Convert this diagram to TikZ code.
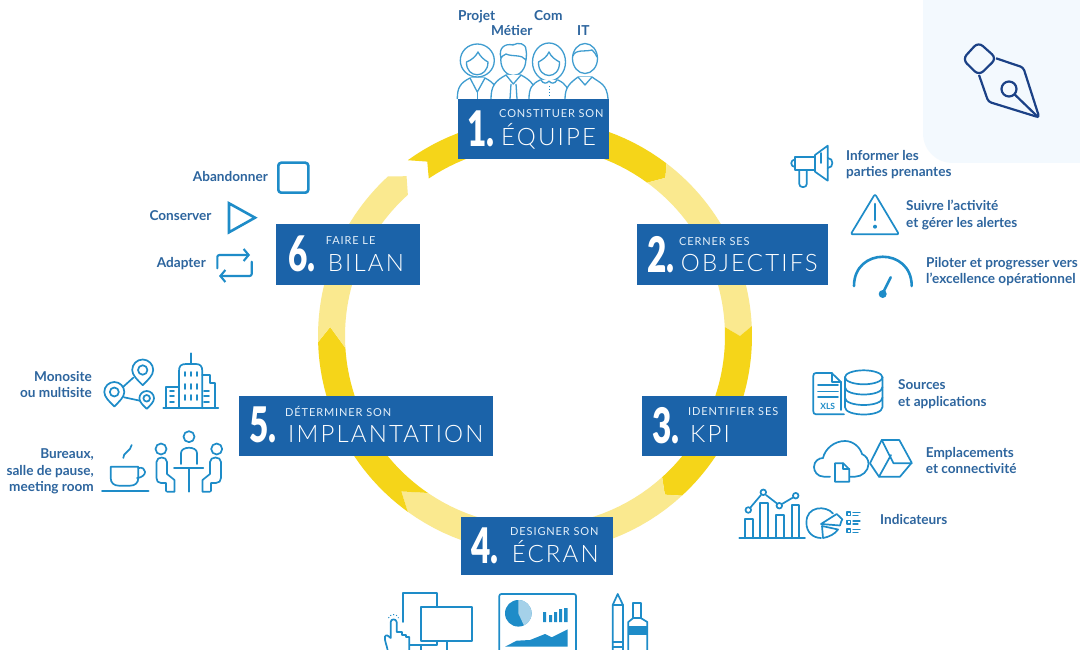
\documentclass[tikz,border=0pt]{standalone}
\usepackage{fontspec}
\setmainfont{Lato}
\newfontfamily\stepfont[LetterSpace=8]{Lato}
\newfontfamily\stepthin[LetterSpace=9]{Lato Light}
\newfontfamily\stepheavy{Lato Black}
\usetikzlibrary{arrows.meta}
\definecolor{boxblue}{HTML}{1B63A9}
\definecolor{boxtext}{HTML}{E4F0FA}
\definecolor{labelblue}{HTML}{2D659E}
\definecolor{iconblue}{HTML}{1E8CC8}
\definecolor{deepyellow}{HTML}{F5D519}
\definecolor{paleyellow}{HTML}{FAE98F}
\definecolor{panelblue}{HTML}{F3F9FE}
\definecolor{navyblue}{HTML}{1B4186}
% one piece of the ring: colour, outer from/to, head tip, inner to/from, tail tip
\newcommand{\ringseg}[7]{%
  \fill[#1] plot[domain=#2:#3,samples=30] ({535+217*cos(\x)},{336+217*sin(\x)})
    -- ({535+205*cos(#4)},{336+205*sin(#4)})
    -- plot[domain=#5:#6,samples=30] ({535+190*cos(\x)},{336+190*sin(\x)})
    -- ({535+205*cos(#7)},{336+205*sin(#7)}) -- cycle;}
\begin{document}
\begin{tikzpicture}[
    x=1pt, y=-1pt,
    stepbox/.style={draw=none, fill=boxblue, inner sep=0pt},
    stepnum/.style={anchor=base west, inner sep=0pt, text=white, font=\fontsize{49}{49}\stepheavy},
    steptop/.style={anchor=base west, inner sep=0pt, text=boxtext, font=\fontsize{11}{12}\stepfont},
    stepbig/.style={anchor=base west, inner sep=0pt, text=white, font=\fontsize{24}{24}\stepthin},
    lab/.style={anchor=west, inner sep=0pt, align=left, text=labelblue, font=\fontsize{13.6}{16.4}\bfseries},
    labr/.style={anchor=east, inner sep=0pt, align=right, text=labelblue, font=\fontsize{13.6}{16.8}\bfseries},
    team/.style={anchor=base west, inner sep=0pt, text=labelblue, font=\fontsize{13.7}{15}\bfseries},
    icon/.style={draw=iconblue, line width=1.7pt, line join=round, line cap=round},
    thickicon/.style={draw=iconblue, line width=2.6pt, line join=round, line cap=round},
    person/.style={draw=iconblue!85, line width=1.3pt, fill=white, line join=round},
    pinicon/.pic={
      \draw[icon] (0,1.45) .. controls (-.5,.95) and (-1,.5) .. (-1,0)
        .. controls (-1,-.55) and (-.55,-1) .. (0,-1)
        .. controls (.55,-1) and (1,-.55) .. (1,0)
        .. controls (1,.5) and (.5,.95) .. (0,1.45) -- cycle;
      \draw[icon] (0,0) circle (.45);
    }
]
    \clip (0,0) rectangle (1080,650);
    \fill[white] (0,0) rectangle (1080,650);

    % panel with pen
    \fill[panelblue] (1090,-10) -- (923,-10) -- (923,133) .. controls (923,150) and (936,163) .. (953,163) -- (1090,163) -- cycle;
    \draw[navyblue, line width=2.2pt, line join=round, rounded corners=6pt]
        (978.3,42) -- (996.5,58.3) -- (979,75.5) -- (962.5,59.3) -- cycle;
    \draw[navyblue, line width=2.2pt, line join=round, rounded corners=3pt]
        (996,58.3) -- (1023.3,67.5) -- (1039.3,117.5) -- (988.3,101.7) -- (979,75);
    \draw[navyblue, line width=2.2pt] (1009,89) circle (7.5);
    \draw[navyblue, line width=2.2pt] (1014.5,94.3) -- (1038.3,117.3);

    % ring
    \ringseg{deepyellow}{234.1}{307.3}{309.5}{306.2}{236}{238.3}
    \ringseg{paleyellow}{307.3}{357.4}{360}{357.3}{306.2}{309.5}
    \ringseg{deepyellow}{-2.6}{47.4}{50.7}{48}{-2.7}{0}
    \ringseg{paleyellow}{47.4}{125.9}{130.7}{124.3}{48}{50.7}
    \ringseg{deepyellow}{125.9}{178.4}{182.5}{176.4}{124.3}{130.7}
    \ringseg{paleyellow}{178.4}{227.4}{231.2}{228}{176.4}{182.5}

    % step boxes
    \node[stepbox, minimum width=151pt, minimum height=60pt] (step1) at (533.5,129) {};
    \node[stepnum] (num1) at (467,146.5) {\scalebox{.68}[1]{1.}};
    \node[steptop] (top1) at (499,118) {CONSTITUER SON};
    \node[stepbig] (big1) at (501,145.7) {ÉQUIPE};

    \node[stepbox, minimum width=191pt, minimum height=61pt] (step2) at (732.5,254.5) {};
    \node[stepnum] (num2) at (647,272.5) {\scalebox{.68}[1]{2.}};
    \node[steptop] (top2) at (679,245) {CERNER SES};
    \node[stepbig] (big2) at (680.7,271.7) {OBJECTIFS};

    \node[stepbox, minimum width=145pt, minimum height=60pt] (step3) at (714.5,426) {};
    \node[stepnum] (num3) at (652,443) {\scalebox{.68}[1]{3.}};
    \node[steptop] (top3) at (688,415.7) {IDENTIFIER SES};
    \node[stepbig] (big3) at (690,442.7) {KPI};

    \node[stepbox, minimum width=152pt, minimum height=58pt] (step4) at (537,546) {};
    \node[stepnum] (num4) at (471,563) {\scalebox{.68}[1]{4.}};
    \node[steptop] (top4) at (510,535) {DESIGNER SON};
    \node[stepbig] (big4) at (511.7,562) {ÉCRAN};

    \node[stepbox, minimum width=254pt, minimum height=60pt] (step5) at (366,426) {};
    \node[stepnum] (num5) at (249,442) {\scalebox{.68}[1]{5.}};
    \node[steptop] (top5) at (285,416) {DÉTERMINER SON};
    \node[stepbig] (big5) at (288,442.7) {IMPLANTATION};

    \node[stepbox, minimum width=144pt, minimum height=61pt] (step6) at (348,254.5) {};
    \node[stepnum] (num6) at (288,271) {\scalebox{.68}[1]{6.}};
    \node[steptop] (top6) at (325.7,244.3) {FAIRE LE};
    \node[stepbig] (big6) at (327.7,271) {BILAN};

    % team
    \node[team] (projet) at (458,20.7) {Projet};
    \node[team] (metier) at (491,36) {Métier};
    \node[team] (com) at (534,20.7) {Com};
    \node[team] (it) at (577,36) {IT};

    \draw[person] (457.3,99) .. controls (457.3,88) and (460,83) .. (470,78) -- (485,78) .. controls (495,83) and (497.3,88) .. (497.3,99);
    \draw[person] (477.3,60.5) ellipse (17 and 16.5);
    \draw[person] (466.5,62) .. controls (466,79) and (488,79) .. (488,62) .. controls (484,60) and (480,56) .. (478,52) .. controls (476,56) and (472,60) .. (466.5,62) -- cycle;
    \draw[person] (470,78) -- (477.3,92) -- (485,78);
    \draw[person] (477.3,92) -- (477.3,99);

    \draw[person] (491,99) .. controls (491,86) and (495,81) .. (506,75) -- (521,75) .. controls (532,81) and (536,86) .. (536,99);
    \draw[person] (513.3,60) ellipse (12.5 and 15.5);
    \draw[person] (501,58) .. controls (498,48) and (505,43) .. (513,45) .. controls (518,42) and (526,43) .. (526,50) .. controls (527,55) and (526,58) .. (526,60) .. controls (522,54) and (512,57) .. (506,54) .. controls (503,55) and (502,57) .. (501,58) -- cycle;
    \draw[person] (506,75) -- (513.3,84) -- (521,75);
    \draw[person] (511,84) -- (510,99) (516,84) -- (517,99);

    \draw[person] (529,99) .. controls (529,88) and (532,84) .. (540,80) -- (558,80) .. controls (566,84) and (569,88) .. (569,99);
    \draw[person] (549,62) ellipse (16.5 and 19);
    \draw[person] (538.5,62) .. controls (538,80) and (560,80) .. (559.5,62) .. controls (556,60) and (551,57) .. (549,52) .. controls (547,57) and (542,60) .. (538.5,62) -- cycle;
    \draw[person] (541,80) .. controls (543,84) and (547,84) .. (549,81) .. controls (551,84) and (555,84) .. (557,80);
    \draw[iconblue, line width=1pt, dotted] (549,86) -- (549,98);

    \draw[person] (565,99) .. controls (565,87) and (570,83) .. (578,77) -- (592,77) .. controls (600,83) and (607,84) .. (608,99);
    \draw[person] (585,58.5) ellipse (12.5 and 15);
    \draw[person] (573,56) .. controls (575,49) and (585,52) .. (592,50) .. controls (594,52) and (596,54) .. (597,57);
    \draw[person] (578,77) -- (585,85) -- (592,77);

    % objectifs
    \node[lab] (informer) at (846,164.5) {Informer les\\parties prenantes};
    \node[lab] (suivre) at (906,215) {Suivre l'activité\\et gérer les alertes};
    \node[lab] (piloter) at (926,271.5) {Piloter et progresser vers\\l'excellence opérationnel};

    \draw[icon] (815,155) -- (827.7,145.7) -- (827.7,180.7) -- (815,171.7) -- cycle;
    \draw[icon] (815,156.7) -- (795,156.7) -- (795,170) -- (815,170);
    \draw[icon] (795,159.5) .. controls (790,159.5) and (790,167) .. (795,167);
    \draw[icon] (827.7,158) .. controls (834,158) and (834,168) .. (827.7,168);
    \draw[icon, rounded corners=3pt] (799.3,170) -- (799.3,187) -- (806.7,187) -- (806.7,170);
    \draw[icon] (820.7,153) -- (820.7,163);

    \draw[icon, rounded corners=2pt] (875,194) -- (899,234.3) -- (850.7,234.3) -- cycle;
    \draw[thickicon] (875,204) -- (875,220);
    \fill[iconblue] (875,226.7) circle (2);

    \draw[thickicon] (854,286) .. controls (854,247) and (911.7,247) .. (911.7,286);
    \draw[thickicon] (882.7,293.3) -- (890.7,277.3);
    \fill[iconblue] (882.7,294) circle (4);

    % KPI
    \node[lab] (sources) at (898,394) {Sources\\et applications};
    \node[lab] (emplacements) at (925.7,460.5) {Emplacements\\et connectivité};
    \node[lab] (indicateurs) at (880,519.5) {Indicateurs};

    \draw[icon] (841,410) -- (841,382) -- (831.7,373) -- (816,373) .. controls (814,373) and (813.3,374) .. (813.3,376) -- (813.3,411) .. controls (813.3,413) and (814,414.3) .. (816,414.3) -- (844,414.3);
    \draw[icon] (831.7,373) -- (831.7,382) -- (841,382);
    \draw[icon] (818,385) -- (838,385) (818,391.5) -- (838,391.5) (818,397) -- (838,397);
    \node[inner sep=0pt, text=iconblue, font=\fontsize{8.5}{8}\bfseries] (xls) at (827.7,406.3) {XLS};
    \draw[icon] (863.7,377.3) ellipse (18.8 and 7);
    \draw[icon] (844.9,377.3) -- (844.9,407) .. controls (844.9,417) and (882.5,417) .. (882.5,407) -- (882.5,377.3);
    \draw[icon] (844.9,387) .. controls (844.9,397) and (882.5,397) .. (882.5,387);
    \draw[icon] (844.9,397.5) .. controls (844.9,407.5) and (882.5,407.5) .. (882.5,397.5);

    \draw[icon] (830,476.7) -- (824,476.7) .. controls (817,476.7) and (814,471) .. (814,467) .. controls (814,461) and (819,458) .. (823,458) .. controls (825,449) and (834,441) .. (845,441) .. controls (853,441) and (860,447) .. (862,454) .. controls (866,456) and (868.5,459) .. (868.5,464) .. controls (868.5,471) and (862,476.7) .. (855,476.7) -- (850,476.7);
    \draw[icon] (843.3,463.3) -- (835,463.3) -- (835,481.7) -- (849.3,481.7) -- (849.3,469.3) -- cycle;
    \draw[icon] (843.3,463.3) -- (843.3,469.3) -- (849.3,469.3);
    \draw[icon] (881.7,440) -- (899.3,440) -- (911.7,462.7) -- (900,476.7) -- (879,476.7) -- (870,463.3) -- cycle;
    \draw[icon] (881.7,440) -- (893.5,463.3) -- (911.7,463.3);
    \draw[icon] (879,476.7) -- (891,455);

    \draw[icon] (739.3,538.3) -- (805,538.3);
    \draw[icon] (745,538.3) -- (745,519.3) -- (752.7,519.3) -- (752.7,538.3);
    \draw[icon] (760,538.3) -- (760,502.7) -- (767.7,502.7) -- (767.7,538.3);
    \draw[icon] (776,538.3) -- (776,515) -- (784,515) -- (784,538.3);
    \draw[icon] (791.7,538.3) -- (791.7,505) -- (799.3,505) -- (799.3,538.3);
    \draw[icon] (750,508) -- (761,495) (766,495) -- (777,503.5) (782,504) -- (793,497.5);
    \draw[icon] (748.3,510) circle (2.8) (763.3,492.3) circle (2.8) (779.3,505.7) circle (2.8) (795.7,495.7) circle (2.8);
    \draw[icon] (833,513.5) .. controls (826,505) and (806,506) .. (806.5,522.5) .. controls (806,532) and (813,538) .. (821,538);
    \draw[icon] (821,524) -- (836.7,514) -- (842.3,519.3) .. controls (841,521) and (841,523) .. (840,525.5) -- cycle;
    \draw[icon] (822,526) -- (838,529.5) .. controls (835,534) and (829,537) .. (823,538) -- cycle;
    \draw[icon, line width=1.1pt] (847,512) rectangle (850.5,515.5) (847,520.5) rectangle (850.5,524) (847,529) rectangle (850.5,532.5);
    \draw[icon, line width=1.1pt] (853,512.5) -- (860,512.5) (853,515.5) -- (858,515.5) (853,521) -- (860,521) (853,524) -- (858,524) (853,529.5) -- (860,529.5) (853,532.5) -- (858,532.5);

    % ecran
    \draw[icon] (410,645) -- (437.3,645) -- (437.3,641) (402.7,622) -- (402.7,593.3) -- (437.3,593.3) -- (437.3,607.3);
    \draw[icon] (420.7,607.3) rectangle (472.3,641);
    \draw[icon] (447.3,641) -- (447.3,652) (420.7,645) -- (420.7,652);
    \draw[icon] (388,652) .. controls (387,645) and (384,640) .. (385,636.5) .. controls (386,634) and (389,636) .. (390.7,638) -- (390.7,622) .. controls (391,618.5) and (396,618.5) .. (396.7,622) -- (396.7,632) -- (402,632) -- (402,635) -- (406,635) -- (406,637) -- (409.3,637) -- (409.3,652);
    \draw[iconblue, line width=1pt, dotted] (388.5,618) .. controls (390,613.5) and (397,613.5) .. (398.5,618);

    \draw[icon, rounded corners=2pt] (499.3,652) -- (499.3,594) -- (576,594) -- (576,652);
    \fill[iconblue] (518.3,613.3) circle (13.3);
    \fill[iconblue!40] (518.3,613.3) -- plot[domain=-90:65,samples=20] ({518.3+13.3*cos(\x)},{613.3+13.3*sin(\x)}) -- cycle;
    \fill[iconblue] (543,612) rectangle (546,622) (549,615) rectangle (552,622) (554,612) rectangle (557,622) (559,609) rectangle (562,622) (564,608) rectangle (567.5,622);
    \fill[iconblue] (505,646.7) -- (516.7,640.7) -- (530,640) -- (545,634) -- (551.7,637.3) -- (567.7,629.3) -- (567.7,646.7) -- cycle;

    \draw[icon] (612.7,652) -- (612.7,605) -- (617.7,594) -- (623,605) -- (623,652);
    \draw[icon] (612.7,605) -- (623,605) (612.7,642) -- (623,642) (612.7,647) -- (623,647);
    \draw[icon] (633.3,618) -- (633.3,603.3) -- (640.7,603.3) -- (640.7,618);
    \draw[icon] (628.3,652) -- (628.3,622) -- (633.3,618) -- (640.7,618) -- (647.3,622) -- (647.3,652);
    \fill[iconblue] (628.3,626) rectangle (647.3,635);

    % implantation
    \node[labr] (monosite) at (92,384.5) {Monosite\\ou multisite};
    \node[labr] (bureaux) at (94,471.5) {Bureaux,\\salle de pause,\\meeting room};

    \pic[scale=10.5] at (142.7,370) {pinicon};
    \pic[scale=10] at (114.3,392) {pinicon};
    \pic[scale=7.3] at (146.7,398.3) {pinicon};
    \draw[icon] (123.3,386.7) -- (133.3,377.7) (124,397.3) -- (140,400.7);

    \draw[icon] (163.3,408.3) -- (218.3,408.3);
    \draw[icon] (179,408.3) -- (179,371) .. controls (179,366) and (181,364) .. (186,364) -- (196,364) .. controls (200,364) and (202.3,366) .. (202.3,371) -- (202.3,408.3);
    \draw[icon] (191,353.3) -- (191,364);
    \draw[icon] (202.3,375) -- (210,375) -- (210,383) -- (215,383) -- (215,408.3);
    \draw[icon] (179,387) -- (165.7,387) -- (165.7,408.3);
    \draw[icon] (185,372) -- (185,376) (191,372) -- (191,376) (196.7,372) -- (196.7,376);
    \draw[icon] (185,384) -- (185,389) (191,384) -- (191,389) (196.7,384) -- (196.7,389);
    \draw[icon] (185,395) -- (185,400) (191,395) -- (191,400) (196.7,395) -- (196.7,400);
    \draw[icon] (170,391) -- (174,391) (170,396) -- (174,396) (170,402) -- (174,402);
    \draw[icon] (204,391) -- (209,391) (204,396) -- (209,396) (204,402) -- (209,402);

    \draw[icon] (110.7,466.7) -- (138.3,466.7) -- (138.3,478) .. controls (138.3,483) and (135,485.7) .. (130,485.7) -- (119,485.7) .. controls (114,485.7) and (110.7,483) .. (110.7,478) -- cycle;
    \draw[icon] (138.3,468) .. controls (147,466) and (148,477) .. (137,478);
    \draw[thickicon] (102.3,491) -- (148.3,491);
    \draw[icon] (123.3,458) .. controls (122.5,453) and (131,451) .. (131.7,445);

    \draw[icon] (189,436.7) circle (5.5) (161,449) circle (5.5) (216.7,449) circle (5.5);
    \draw[icon] (181,464) -- (181,453) .. controls (181,446) and (197,446) .. (197,453) -- (197,464);
    \draw[icon] (174,468.3) -- (203.3,468.3) (188.7,468.3) -- (188.7,491.7);
    \draw[icon] (167,491.7) -- (174.5,491.7) -- (174.5,480) -- (167,474) -- (167,462) .. controls (167,456) and (156.5,456) .. (156.5,462) -- (156.5,478) .. controls (156.5,481) and (158,483) .. (161,483) -- (166,483) -- (166,491);
    \draw[icon] (210,491.7) -- (202.5,491.7) -- (202.5,480) -- (210,474) -- (210,462) .. controls (210,456) and (221,456) .. (221,462) -- (221,478) .. controls (221,481) and (219,483) .. (216,483) -- (211,483) -- (211,491);

    % bilan
    \node[labr] (abandonner) at (268,176.5) {Abandonner};
    \node[labr] (conserver) at (211.7,215.5) {Conserver};
    \node[labr] (adapter) at (206,263.5) {Adapter};

    \draw[thickicon, rounded corners=3pt] (278.3,162.7) rectangle (308.3,192.7);
    \draw[thickicon, line join=miter] (229,203.3) -- (255,217.7) -- (229,232.3) -- cycle;
    \draw[icon, line width=2.1pt, rounded corners=2pt, -{Straight Barb[length=5pt,width=12pt]}] (217.3,268.3) -- (217.3,255) -- (250,255);
    \draw[icon, line width=2.1pt, rounded corners=2pt, -{Straight Barb[length=5pt,width=12pt]}] (251.7,261.7) -- (251.7,276) -- (219,276);
\end{tikzpicture}
\end{document}
